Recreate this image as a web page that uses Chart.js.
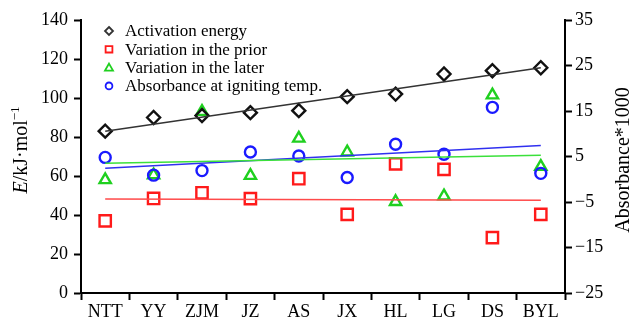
<!DOCTYPE html>
<html>
<head>
<meta charset="utf-8">
<script src="https://cdn.jsdelivr.net/npm/chart.js@4"></script>
<style>
  html, body { margin: 0; padding: 0; background: #fff; }
  #wrap { width: 631px; height: 320px; }
</style>
</head>
<body>
<div id="wrap"><canvas id="chart" width="631" height="320"></canvas></div>
<script>
const categories = ["NTT", "YY", "ZJM", "JZ", "AS", "JX", "HL", "LG", "DS", "BYL"];

// kJ/mol, left axis
const activationEnergy = [83, 90, 91, 92.5, 93.5, 100.7, 102, 112.3, 114, 115.5];
const priorVariation = [37, 48.5, 51.4, 48.4, 58.6, 40.3, 66.2, 63.4, 28.4, 40.3];
const laterVariation = [58, 60.5, 93, 60.2, 79.3, 72.2, 46.8, 49.7, 101.5, 64.8];
// absorbance*1000, right axis
const absorbance = [4.8, 0.9, 1.9, 6.0, 5.1, 0.4, 7.7, 5.5, 15.8, 1.3];

// fitted lines, value at first and last category
const energyTrend = [83, 115.5];
const priorTrend = [48.2, 47.6];
const laterTrend = [66.5, 70.7];
const absorbanceTrend = [2.4, 7.4];

const FONT = "'Liberation Serif', 'Times New Roman', serif";
const BLACK = "#111";
const RED = "#ff1a1a";
const GREEN = "#1fd01f";
const BLUE = "#1a1aff";

function trend(values) {
  return [
    { x: categories[0], y: values[0] },
    { x: categories[categories.length - 1], y: values[1] },
  ];
}

function markers(label, data, style, color, radius, axis) {
  return {
    label: label,
    data: data,
    yAxisID: axis,
    showLine: false,
    pointStyle: style,
    pointRadius: radius,
    pointHoverRadius: radius,
    pointBorderWidth: 2.4,
    pointBorderColor: color,
    pointBackgroundColor: "rgba(0,0,0,0)",
    borderColor: color,
    clip: false,
  };
}

function line(data, color, axis) {
  return {
    label: "",
    data: data,
    yAxisID: axis,
    borderColor: color,
    borderWidth: 1.5,
    pointRadius: 0,
    fill: false,
    clip: false,
  };
}

const legendItems = [
  { text: "Activation energy", style: "diamond", color: "#333" },
  { text: "Variation in the prior", style: "square", color: RED },
  { text: "Variation in the later", style: "triangle", color: GREEN },
  { text: "Absorbance at igniting temp.", style: "circle", color: BLUE },
];

function drawMarker(ctx, style, x, y, r) {
  ctx.beginPath();
  if (style === "diamond") {
    ctx.moveTo(x, y - r);
    ctx.lineTo(x + r, y);
    ctx.lineTo(x, y + r);
    ctx.lineTo(x - r, y);
    ctx.closePath();
  } else if (style === "square") {
    ctx.rect(x - r * 0.85, y - r * 0.8, r * 1.7, r * 1.6);
  } else if (style === "triangle") {
    ctx.moveTo(x, y - r);
    ctx.lineTo(x + r, y + r * 0.75);
    ctx.lineTo(x - r, y + r * 0.75);
    ctx.closePath();
  } else {
    ctx.arc(x, y, r * 0.85, 0, Math.PI * 2);
  }
  ctx.stroke();
}

const decorations = {
  id: "decorations",
  afterDraw(chart) {
    const ctx = chart.ctx;
    ctx.save();

    // legend
    ctx.font = "17px " + FONT;
    ctx.textBaseline = "middle";
    ctx.textAlign = "left";
    legendItems.forEach((item, i) => {
      const y = 31 + i * 18.3;
      ctx.strokeStyle = item.color;
      ctx.lineWidth = 1.8;
      drawMarker(ctx, item.style, 109, y, 4);
      ctx.fillStyle = "#000";
      ctx.fillText(item.text, 125, y + 1);
    });

    // left axis title: E/kJ·mol−1
    ctx.save();
    ctx.translate(27, 150);
    ctx.rotate(-Math.PI / 2);
    ctx.fillStyle = "#000";
    ctx.textBaseline = "alphabetic";
    const big = "20px " + FONT;
    const italic = "italic 20px " + FONT;
    const small = "13px " + FONT;
    ctx.font = italic;
    const wE = ctx.measureText("E").width;
    ctx.font = big;
    const wMain = ctx.measureText("/kJ\u00b7mol").width;
    ctx.font = small;
    const wSup = ctx.measureText("\u22121").width;
    let x = -(wE + wMain + wSup) / 2;
    ctx.font = italic;
    ctx.fillText("E", x, 0);
    x += wE;
    ctx.font = big;
    ctx.fillText("/kJ\u00b7mol", x, 0);
    x += wMain;
    ctx.font = small;
    ctx.fillText("\u22121", x, -8);
    ctx.restore();

    // right axis title
    ctx.save();
    ctx.translate(629, 160);
    ctx.rotate(-Math.PI / 2);
    ctx.fillStyle = "#000";
    ctx.font = "20px " + FONT;
    ctx.textAlign = "center";
    ctx.textBaseline = "alphabetic";
    ctx.fillText("Absorbance*1000", 0, 0);
    ctx.restore();

    ctx.restore();
  },
};

const axisGrid = {
  drawOnChartArea: false,
  drawTicks: true,
  tickLength: 7,
  tickWidth: 2,
  color: "#000",
};

new Chart(document.getElementById("chart"), {
  type: "line",
  data: {
    labels: categories,
    datasets: [
      line(trend(energyTrend), "#333", "y"),
      line(trend(priorTrend), "#ff4a4a", "y"),
      line(trend(laterTrend), "#3be03b", "y"),
      line(trend(absorbanceTrend), "#3030f0", "y1"),
      markers("Activation energy", activationEnergy, "rectRot", BLACK, 6.5, "y"),
      markers("Variation in the prior", priorVariation, "rect", RED, 8, "y"),
      markers("Absorbance at igniting temp.", absorbance, "circle", BLUE, 5.5, "y1"),
      markers("Variation in the later", laterVariation, "triangle", GREEN, 6.5, "y"),
    ],
  },
  options: {
    responsive: false,
    animation: false,
    events: [],
    layout: { padding: { top: 20, left: 0, right: 0, bottom: 0 } },
    plugins: {
      legend: { display: false },
      tooltip: { enabled: false },
    },
    scales: {
      x: {
        offset: true,
        grid: Object.assign({}, axisGrid, { offset: true }),
        border: { color: "#000", width: 2 },
        ticks: {
          color: "#000",
          font: { family: FONT, size: 18 },
          padding: 1,
          maxRotation: 0,
          autoSkip: false,
        },
        afterFit(scale) { scale.height = 27; },
      },
      y: {
        position: "left",
        min: 0,
        max: 140,
        grid: axisGrid,
        border: { color: "#000", width: 2 },
        ticks: {
          stepSize: 20,
          color: "#000",
          font: { family: FONT, size: 18 },
          padding: 6,
        },
        afterFit(scale) { scale.width = 81; },
      },
      y1: {
        position: "right",
        min: -25,
        max: 35,
        grid: axisGrid,
        border: { color: "#000", width: 2 },
        ticks: {
          stepSize: 10,
          color: "#000",
          font: { family: FONT, size: 18 },
          padding: 3,
          callback: (v) => String(v).replace("-", "\u2212"),
        },
        afterFit(scale) { scale.width = 66; },
      },
    },
  },
  plugins: [decorations],
});
</script>
</body>
</html>
